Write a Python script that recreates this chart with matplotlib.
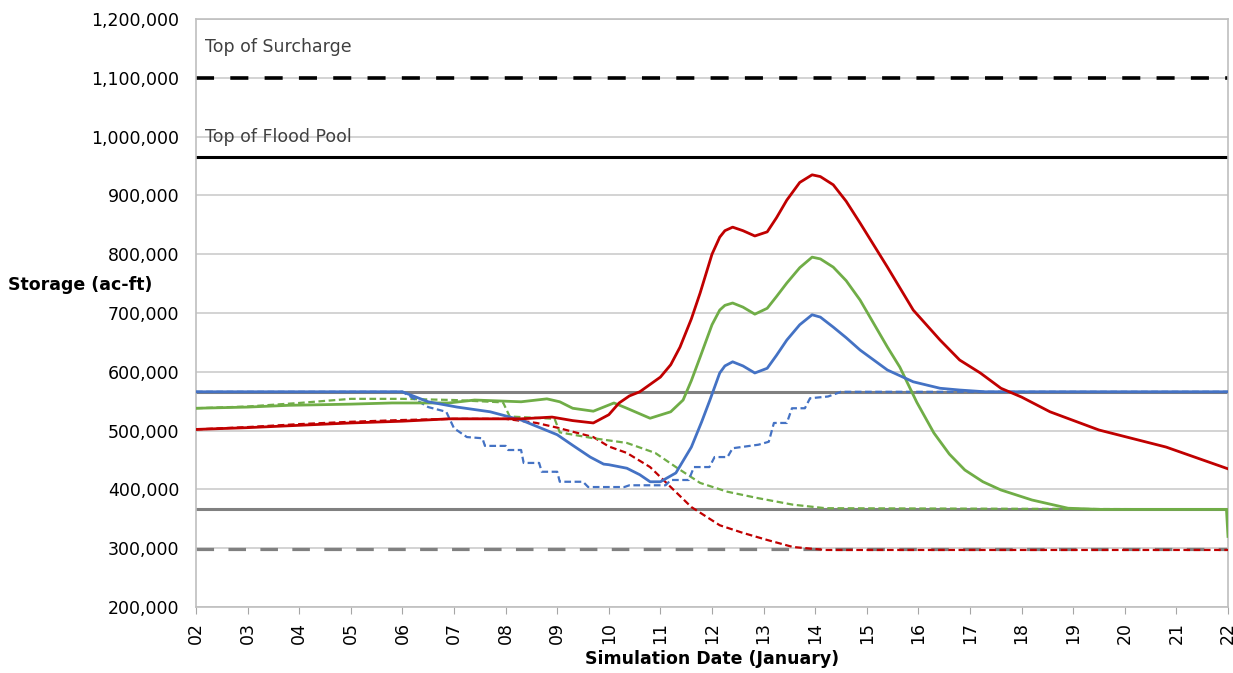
import matplotlib
matplotlib.use("Agg")
import matplotlib.pyplot as plt
from matplotlib.ticker import FuncFormatter, MultipleLocator

# Reservoir storage, thousands of acre-feet, against day of January
red_days = [2, 3, 4, 5, 6, 6.9, 8.3, 8.9, 9.3, 9.7, 10.0, 10.2, 10.4, 10.6, 11.0,
            11.2, 11.38, 11.6, 11.77, 12.0, 12.15, 12.25, 12.4, 12.6, 12.83, 13.07,
            13.25, 13.45, 13.7, 13.94, 14.1, 14.35, 14.6, 14.87, 15.4, 15.9, 16.42,
            16.8, 17.2, 17.6, 18.0, 18.55, 19.5, 20.8, 22.0]
red_vals = [502, 505, 509, 513, 516, 520, 520, 523, 517, 513, 527, 547, 559, 566, 591,
            612, 642, 690, 734, 800, 829, 840, 846, 840, 831, 838,
            862, 892, 922, 935, 932, 918, 890, 853, 778, 705, 654,
            620, 598, 572, 557, 532, 501, 472, 435]

green_days = [2, 3, 3.8, 5, 5.8, 6.9, 7.4, 8.3, 8.8, 9.05, 9.3, 9.7, 10.1, 10.35,
              10.8, 11.2, 11.44, 11.6, 11.77, 12.0, 12.15, 12.25, 12.4, 12.6, 12.83,
              13.07, 13.25, 13.45, 13.7, 13.94, 14.1, 14.35, 14.6, 14.87, 15.4, 15.64,
              15.97, 16.3, 16.6, 16.9, 17.25, 17.6, 18.2, 18.9, 19.5, 21.97, 22.0]
green_vals = [538, 540, 543, 545, 547, 547, 552, 549, 554, 549, 538, 533, 547, 538,
              521, 532, 552, 585, 625, 680, 705, 713, 717, 710, 698,
              708, 728, 751, 777, 795, 792, 778, 755, 722, 642, 608,
              548, 496, 460, 433, 413, 399, 382, 368, 366, 366, 320]

blue_days = [2, 4, 6.0, 6.5, 7.06, 7.7, 8.3, 9.0, 9.3, 9.64, 9.9, 10.0, 10.35, 10.6,
             10.8, 11.0, 11.3, 11.6, 11.8, 11.96, 12.15, 12.25, 12.4, 12.6, 12.83,
             13.07, 13.25, 13.45, 13.7, 13.94, 14.1, 14.35, 14.6, 14.87, 15.4, 15.9,
             16.42, 16.8, 17.3, 22]
blue_vals = [566, 566, 566, 549, 540, 532, 518, 493, 475, 455, 443, 442, 436, 425,
             413, 413, 428, 472, 515, 552, 598, 610, 617, 610, 598,
             606, 628, 654, 680, 697, 693, 676, 658, 637, 603, 583,
             572, 569, 566, 566]

red_dash_days = [2, 3, 4, 5, 6, 7, 8, 8.6, 9.0, 9.7, 10.0, 10.35, 10.8, 11.2, 11.6,
                 12.15, 12.6, 13.07, 13.57, 14.2, 22]
red_dash_vals = [502, 506, 511, 515, 518, 520, 520, 513, 505, 489, 473, 462, 438, 404, 370,
                 339, 326, 314, 302, 297, 297]

green_dash_days = [2, 3, 4, 5, 6, 7, 7.95, 8.08, 8.95, 9.05, 9.7, 10.35, 10.9, 11.3,
                   11.77, 12.3, 12.9, 13.57, 14.2, 22]
green_dash_vals = [538, 541, 547, 554, 554, 552, 548, 524, 520, 497, 487, 479, 462, 438,
                   411, 396, 385, 374, 368, 366]

blue_dash_days = [2, 6.0, 6.5, 6.85, 7.0, 7.25, 7.55, 7.6, 8.0, 8.05, 8.3, 8.35, 8.65,
                  8.7, 9.0, 9.05, 9.5, 9.6, 10.3, 10.4, 11.1, 11.2, 11.55, 11.65, 11.95,
                  12.05, 12.3, 12.4, 12.9, 13.1, 13.2, 13.45, 13.55, 13.8, 13.9, 14.25,
                  14.5, 22]
blue_dash_vals = [566, 566, 540, 532, 504, 489, 487, 474, 474, 467, 467, 445, 445,
                  430, 430, 413, 413, 404, 404, 407, 407, 416, 416, 438, 438,
                  455, 455, 470, 476, 481, 513, 513, 538, 538, 555, 558,
                  566, 566]

# Reference pool levels
top_surcharge = 1100
top_flood_pool = 966
upper_gray = 566
lower_gray = 366
bottom_dashed = 298

day_ticks = list(range(2, 23))
day_labels = [f"{d:02d}" for d in day_ticks]

RED = "#C00000"
GREEN = "#70AD47"
BLUE = "#4472C4"
GRAY = "#808080"

plt.rcParams["font.family"] = "DejaVu Sans"

fig = plt.figure(figsize=(12.33, 6.73), dpi=100)
ax = fig.add_axes([196 / 1233, 1 - 607 / 673, (1228 - 196) / 1233, (607 - 19) / 673])

ax.set_xlim(2, 22)
ax.set_ylim(200, 1200)

ax.yaxis.set_major_locator(MultipleLocator(100))
ax.yaxis.set_major_formatter(FuncFormatter(lambda v, _: f"{v * 1000:,.0f}"))
ax.grid(axis="y", color="#CCCCCC", linewidth=1.2, zorder=0)
ax.set_axisbelow(True)

# pool levels
ax.axhline(top_surcharge, color="black", linewidth=2.6, dashes=(5, 4.5), zorder=2)
ax.axhline(top_flood_pool, color="black", linewidth=2.2, zorder=2)
ax.axhline(upper_gray, color=GRAY, linewidth=2.2, zorder=2)
ax.axhline(lower_gray, color=GRAY, linewidth=2.2, zorder=2)
ax.axhline(bottom_dashed, color=GRAY, linewidth=2.3, dashes=(5.5, 4.5), zorder=2)

# simulated storage traces
dash = (3, 1.6)
ax.plot(red_dash_days, red_dash_vals, color=RED, linewidth=1.6, dashes=dash, zorder=3)
ax.plot(green_dash_days, green_dash_vals, color=GREEN, linewidth=1.6, dashes=dash, zorder=3)
ax.plot(blue_dash_days, blue_dash_vals, color=BLUE, linewidth=1.6, dashes=dash, zorder=3)
for days, vals, col, z in [(green_days, green_vals, GREEN, 4),
                           (blue_days, blue_vals, BLUE, 4),
                           (red_days, red_vals, RED, 5)]:
    ax.plot(days, vals, color=col, linewidth=2.0, solid_joinstyle="round", zorder=z)

ax.text(2.17, 1152, "Top of Surcharge", fontsize=12.5, color="#404040", va="center")
ax.text(2.17, 1000, "Top of Flood Pool", fontsize=12.5, color="#404040", va="center")

ax.set_xticks(day_ticks)
ax.set_xticklabels(day_labels, rotation=90)
ax.tick_params(axis="x", direction="out", length=5, color="#A6A6A6", labelsize=12.5, pad=6)
ax.tick_params(axis="y", length=0, labelsize=12.5, pad=12)

for side in ["left", "right", "top", "bottom"]:
    ax.spines[side].set_color("#BFBFBF")
    ax.spines[side].set_linewidth(1.2)

ax.set_xlabel("Simulation Date (January)", fontsize=12.5, fontweight="bold", labelpad=4)
fig.text(8 / 1233, 1 - 285 / 673, "Storage (ac-ft)", fontsize=12.5, fontweight="bold",
         ha="left", va="center")

fig.savefig("out.png", dpi=100, facecolor="white")
